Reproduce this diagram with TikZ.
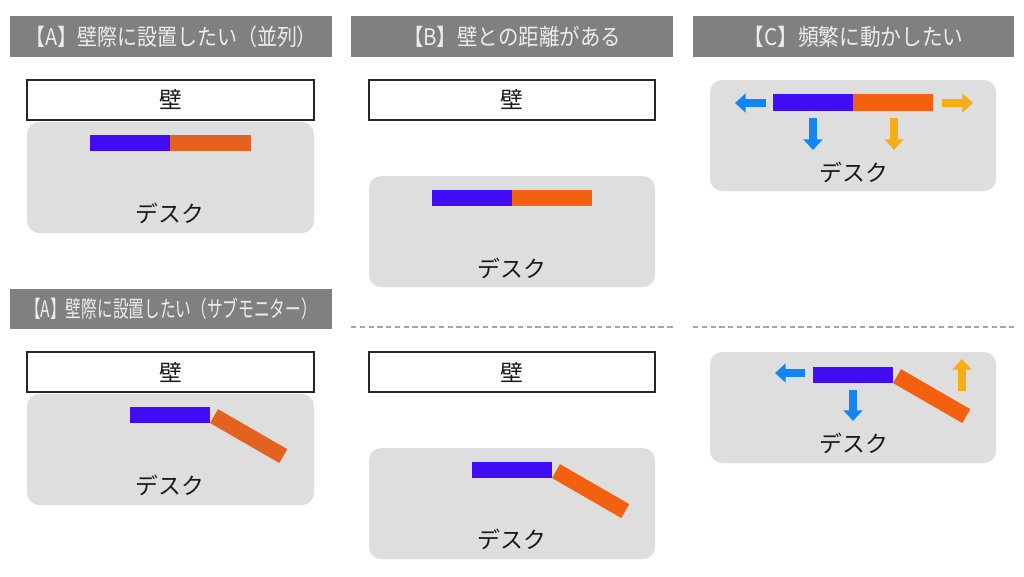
\documentclass[tikz,border=0pt]{standalone}
\usepackage{fontspec}
\setmainfont{Noto Sans CJK JP}
\usepackage{graphicx}
\usetikzlibrary{arrows.meta}
\definecolor{hdrgray}{RGB}{128,128,128}
\definecolor{hdrtxt}{RGB}{236,236,236}
\definecolor{deskgray}{RGB}{222,222,222}
\definecolor{monblue}{RGB}{66,12,245}
\definecolor{monorangeA}{RGB}{228,98,32}
\definecolor{monorange}{RGB}{243,96,16}
\definecolor{arrblue}{RGB}{17,133,245}
\definecolor{arryellow}{RGB}{245,174,20}
\begin{document}
\begin{tikzpicture}[x=0.02cm,y=-0.02cm,
  every node/.style={font=\fontsize{13pt}{15pt}\selectfont, text=black!90},
  hdr/.style={fill=hdrgray},
  hdrtext/.style={text=hdrtxt},
  wall/.style={draw=black!85, line width=1.1pt, fill=white},
  desk/.style={fill=deskgray, rounded corners=0.24cm},
  sep/.style={draw=gray!70, line width=0.8pt, dash pattern=on 3pt off 2pt},
  arr/.style={line width=4pt, -{Triangle[length=6pt,width=10.5pt]}}]
\useasboundingbox (0,0) rectangle (1024,576);

\fill[hdr] (10,16) rectangle (332,57) node [pos=0.5, hdrtext] (hdrA) {\resizebox{5.84cm}{\height}{【A】壁際に設置したい（並列）}};
\fill[hdr] (351,16) rectangle (673,57) node [pos=0.5, hdrtext] (hdrB) {\resizebox{4.36cm}{\height}{【B】壁との距離がある}};
\fill[hdr] (693,16) rectangle (1014,57) node [pos=0.5, hdrtext] (hdrC) {\resizebox{4.40cm}{\height}{【C】頻繁に動かしたい}};
\fill[hdr] (10,289) rectangle (332,329) node [pos=0.5, hdrtext] (hdrAsub) {\resizebox{5.84cm}{\height}{【A】壁際に設置したい（サブモニター）}};

\draw[sep] (351,327) -- (673,327);
\draw[sep] (693,327) -- (1014,327);

\draw[wall] (27,80) rectangle (314,120) node [pos=0.5] (wallA) {壁};
\fill[desk] (27,122) rectangle (314,233);
\node (deskA) at (170,213) {デスク};
\fill[monblue] (90,135) rectangle (170,151);
\fill[monorangeA] (170,135) rectangle (251,151);

\draw[wall] (369,80) rectangle (655,120) node [pos=0.5] (wallB) {壁};
\fill[desk] (369,176) rectangle (655,287);
\node (deskB) at (512,268) {デスク};
\fill[monblue] (432,190) rectangle (512,206);
\fill[monorange] (512,190) rectangle (592,206);

\fill[desk] (710,80) rectangle (996,191);
\node (deskC) at (854,172) {デスク};
\fill[monblue] (773,94) rectangle (853,111);
\fill[monorange] (853,94) rectangle (933,111);
\draw[arr, arrblue] (766,103) -- (735,103);
\draw[arr, arryellow] (942,103) -- (973,103);
\draw[arr, arrblue] (813,118) -- (813,150);
\draw[arr, arryellow] (894,118) -- (894,150);

\draw[wall] (27,352) rectangle (314,392) node [pos=0.5] (wallAsub) {壁};
\fill[desk] (27,394) rectangle (314,505);
\node (deskAsub) at (170,485) {デスク};
\fill[monblue] (130,407) rectangle (210,423);
\fill[monorangeA, rotate around={-30:(210,423)}] (210,407) rectangle (290,423);

\draw[wall] (369,352) rectangle (655,392) node [pos=0.5] (wallB2) {壁};
\fill[desk] (369,448) rectangle (655,559);
\node (deskB2) at (512,539) {デスク};
\fill[monblue] (472,462) rectangle (552,478);
\fill[monorange, rotate around={-30:(552,478)}] (552,462) rectangle (632,478);

\fill[desk] (710,352) rectangle (996,463);
\node (deskC2) at (854,443) {デスク};
\fill[monblue] (813,367) rectangle (893,383);
\fill[monorange, rotate around={-30:(893,383)}] (893,367) rectangle (973,383);
\draw[arr, arrblue] (805,373) -- (775,373);
\draw[arr, arrblue] (853,390) -- (853,421);
\draw[arr, arryellow] (962,391) -- (962,359);
\end{tikzpicture}
\end{document}
